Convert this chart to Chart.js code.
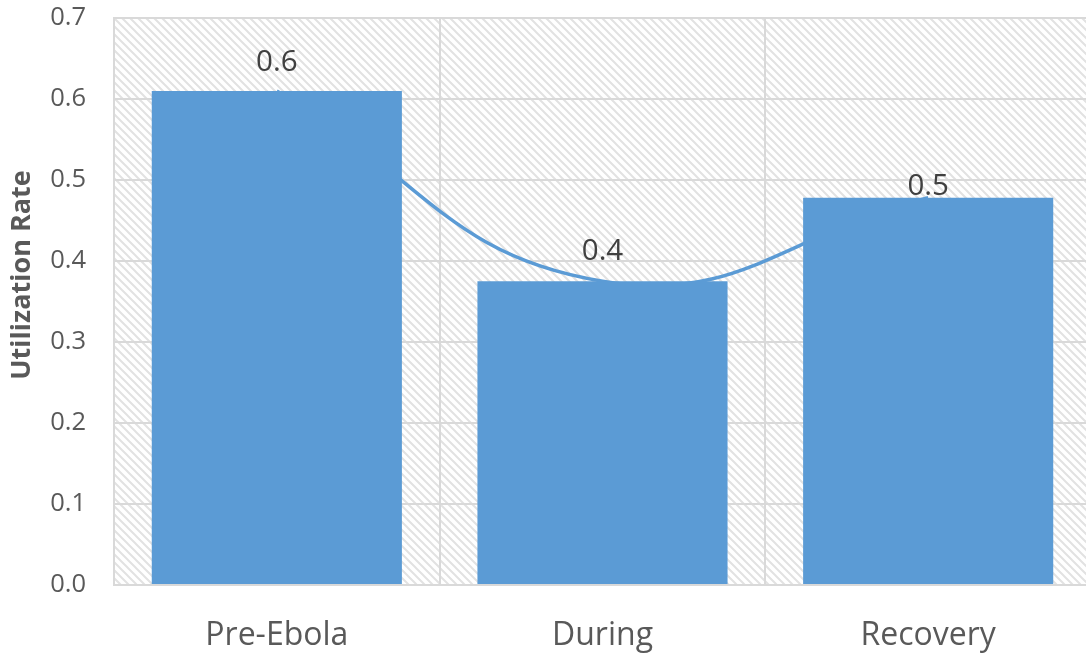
<!DOCTYPE html>
<html>
<head>
<meta charset="utf-8">
<script src="https://cdn.jsdelivr.net/npm/chart.js@4.4.1/dist/chart.umd.min.js"></script>
<style>
  html, body { margin: 0; padding: 0; background: #ffffff; overflow: hidden; }
  #wrap { width: 1086px; height: 658px; overflow: hidden; }
  canvas { display: block; }
</style>
</head>
<body>
<div id="wrap"><canvas id="chart" width="1091" height="658"></canvas></div>
<script>
// Utilization rate by period
const categories = ['Pre-Ebola', 'During', 'Recovery'];
const utilization = [0.61, 0.375, 0.478];
const yTicks = [0.0, 0.1, 0.2, 0.3, 0.4, 0.5, 0.6, 0.7];
const yTitle = 'Utilization Rate';

const BLUE = '#5B9BD5';
const TEXT = '#595959';
const LABEL = '#404040';
const GRID = '#D9D9D9';
const FONT = "'Open Sans', 'DejaVu Sans', sans-serif";

// diagonal hatch tile for the plot background
function hatchPattern(ctx) {
  const t = document.createElement('canvas');
  t.width = 8; t.height = 8;
  const c = t.getContext('2d');
  c.fillStyle = '#ffffff';
  c.fillRect(0, 0, 8, 8);
  c.strokeStyle = '#E2E2E2';
  c.lineWidth = 2;
  c.beginPath();
  c.moveTo(-2, -2); c.lineTo(10, 10);
  c.moveTo(-6, 2); c.lineTo(2, 10);
  c.moveTo(6, -2); c.lineTo(14, 6);
  c.stroke();
  return ctx.createPattern(t, 'repeat');
}

const plotBackground = {
  id: 'plotBackground',
  beforeDraw(chart) {
    const { ctx, chartArea: a } = chart;
    ctx.save();
    ctx.fillStyle = hatchPattern(ctx);
    ctx.fillRect(a.left, a.top, a.right - a.left, a.bottom - a.top);
    ctx.restore();
  }
};

// value labels above each point, plus the rotated axis title
const annotations = {
  id: 'annotations',
  afterDraw(chart, args, opts) {
    const { ctx } = chart;
    const meta = chart.getDatasetMeta(1);
    ctx.save();
    ctx.fillStyle = LABEL;
    ctx.font = '29.5px ' + FONT;
    ctx.textAlign = 'center';
    ctx.textBaseline = 'alphabetic';
    meta.data.forEach((pt, i) => {
      const v = chart.data.datasets[1].data[i];
      ctx.fillText(v.toFixed(1), pt.x, pt.y - opts.lift[i]);
    });
    ctx.fillStyle = TEXT;
    ctx.translate(opts.titleX, opts.titleY);
    ctx.rotate(-Math.PI / 2);
    ctx.font = 'bold 27px ' + FONT;
    ctx.textBaseline = 'middle';
    ctx.fillText(yTitle, 0, 0);
    ctx.restore();
  }
};

new Chart(document.getElementById('chart'), {
  data: {
    labels: categories,
    datasets: [
      {
        type: 'bar',
        data: utilization,
        backgroundColor: BLUE,
        borderWidth: 0,
        barPercentage: 0.768,
        categoryPercentage: 1.0,
        order: 1
      },
      {
        type: 'line',
        data: utilization,
        borderColor: BLUE,
        borderWidth: 3.5,
        pointRadius: 0,
        tension: 0.45,
        fill: false,
        order: 2
      }
    ]
  },
  options: {
    responsive: false,
    animation: false,
    devicePixelRatio: 1,
    layout: { padding: { top: 18, right: 0, bottom: 0, left: 0 } },
    plugins: {
      legend: { display: false },
      tooltip: { enabled: false },
      annotations: { lift: [20, 21, 3], titleX: 22, titleY: 275 }
    },
    scales: {
      x: {
        grid: { color: GRID, lineWidth: 2, drawTicks: false, offset: true },
        border: { color: GRID, width: 2 },
        ticks: { color: TEXT, font: { family: FONT, size: 32 }, padding: 32 },
        afterFit(scale) {
          scale.height = 73;
          scale.paddingLeft = 0;
          scale.paddingRight = 0;
        }
      },
      y: {
        min: 0,
        max: 0.7,
        afterBuildTicks(scale) { scale.ticks = yTicks.map(v => ({ value: v })); },
        grid: { color: GRID, lineWidth: 2, drawTicks: false },
        border: { color: GRID, width: 2 },
        ticks: {
          color: TEXT,
          font: { family: FONT, size: 25.5 },
          padding: 28,
          callback: v => Number(v).toFixed(1)
        },
        afterFit(scale) {
          scale.width = 114;
          scale.paddingTop = 0;
          scale.paddingBottom = 0;
        }
      }
    }
  },
  plugins: [plotBackground, annotations]
});
</script>
</body>
</html>
